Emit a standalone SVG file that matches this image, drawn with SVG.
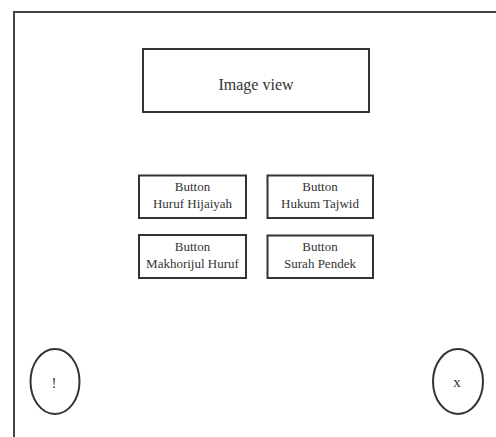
<svg xmlns="http://www.w3.org/2000/svg" width="496" height="437" viewBox="0 0 496 437">
  <style>
    .box { fill: #fff; stroke: #333; stroke-width: 2; }
    .frame { fill: none; stroke: #444; stroke-width: 2; }
    .lbl { font-family: "Liberation Serif", "Times New Roman", serif; fill: #333; text-anchor: middle; }
    .btn { font-size: 13px; }
  </style>
  <rect width="496" height="437" fill="#fff"/>
  <!-- screen frame (continues past the right and bottom edges) -->
  <path class="frame" d="M14,440 V12 H500"/>

  <g id="image-view">
    <rect class="box" x="143" y="49" width="226" height="63"/>
    <text class="lbl" x="256" y="90" font-size="16">Image view</text>
  </g>

  <g id="btn-huruf-hijaiyah">
    <rect class="box" x="139" y="175.5" width="107" height="42.5"/>
    <text class="lbl btn" x="192.5" y="191">Button</text>
    <text class="lbl btn" x="192.5" y="208">Huruf Hijaiyah</text>
  </g>

  <g id="btn-hukum-tajwid">
    <rect class="box" x="267.5" y="175.5" width="105.5" height="42.5"/>
    <text class="lbl btn" x="320" y="191">Button</text>
    <text class="lbl btn" x="320" y="208">Hukum Tajwid</text>
  </g>

  <g id="btn-makhorijul-huruf">
    <rect class="box" x="139" y="235" width="107" height="43"/>
    <text class="lbl btn" x="192.5" y="251">Button</text>
    <text class="lbl btn" x="192.5" y="268">Makhorijul Huruf</text>
  </g>

  <g id="btn-surah-pendek">
    <rect class="box" x="267.5" y="235.5" width="105.5" height="42.5"/>
    <text class="lbl btn" x="320" y="251">Button</text>
    <text class="lbl btn" x="320" y="268">Surah Pendek</text>
  </g>

  <g id="btn-info">
    <ellipse class="box" cx="55" cy="381.5" rx="24.5" ry="32.5"/>
    <text class="lbl" x="54" y="388" font-size="15">!</text>
  </g>

  <g id="btn-close">
    <ellipse class="box" cx="458" cy="381.5" rx="25" ry="32.5"/>
    <text class="lbl" x="457" y="387" font-size="15">x</text>
  </g>

  <g id="connectors"/>
</svg>
